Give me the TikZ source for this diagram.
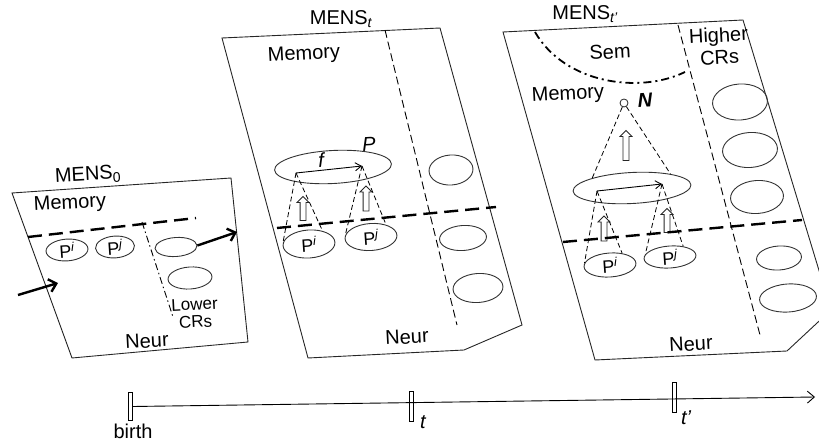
\documentclass[tikz,border=0pt]{standalone}
\usepackage{fontspec}
\setmainfont{Liberation Sans}
\usetikzlibrary{shapes.geometric,shapes.arrows,arrows.meta}
\begin{document}
\begin{tikzpicture}[x=1pt,y=-1pt,
  panel/.style={draw=black!85, line width=0.9pt, line join=miter},
  lbl/.style={font=\fontsize{20}{22}\selectfont, inner sep=0pt, rotate=3},
  smalllbl/.style={font=\fontsize{17}{17.5}\selectfont, inner sep=0pt, rotate=3, align=center},
  tlbl/.style={font=\fontsize{20}{22}\selectfont, inner sep=0pt},
  el/.style={ellipse, draw=black!80, line width=0.9pt, inner sep=0pt, rotate=4, font=\fontsize{18}{18}\selectfont},
  memline/.style={line width=2.4pt, dash pattern=on 14pt off 7pt},
  divdash/.style={line width=0.9pt, dash pattern=on 8pt off 4pt},
  divdashdot/.style={line width=0.9pt, dash pattern=on 7pt off 3pt on 1.5pt off 3pt},
  semline/.style={line width=1.8pt, dash pattern=on 8pt off 4pt on 2pt off 4pt},
  cone/.style={line width=0.8pt, dash pattern=on 5pt off 3pt},
  hollow/.style={single arrow, draw=black!85, line width=0.8pt, rotate=90, inner xsep=0pt, inner ysep=2.5pt, minimum width=11pt, single arrow head extend=3pt},
  bigarrow/.style={line width=2.4pt, -{Straight Barb[length=7pt,width=13pt]}},
  thinarrow/.style={line width=0.9pt, -{Straight Barb[length=6pt,width=8pt]}},
  tickbox/.style={draw, rectangle, minimum width=4pt, minimum height=28pt, inner sep=0pt, line width=0.8pt}
]
\useasboundingbox (0,0) rectangle (819,443);
\begin{scope}
\clip (0,0) rectangle (819,443);

% ================= Left panel: MENS_0 =================
\draw[panel] (12,193) -- (231,178) -- (248,342) -- (72,358) -- cycle;
\node[lbl] (mens0) at (88,175) {MENS\textsubscript{0}};
\node[lbl] (mem0) at (70,204) {Memory};
\draw[memline] (28,237) -- (196,218);
\draw[divdashdot] (142,222) -- (173,317);
\node[el, minimum width=42pt, minimum height=20pt] (LPi) at (67,250) {P\textsuperscript{\itshape i}};
\node[el, minimum width=39pt, minimum height=19pt] (LPj) at (115,247) {P\textsuperscript{\itshape j}};
\node[el, minimum width=42pt, minimum height=19pt] (LC1) at (176,247) {};
\node[el, minimum width=44pt, minimum height=22pt] (LC2) at (190,278) {};
\node[smalllbl] (lowercrs) at (195,313) {Lower\\CRs};
\node[lbl] (neur0) at (147,341) {Neur};
\coordinate (inA) at (18,295);
\coordinate (inB) at (58,283);
\draw[bigarrow] (inA) -- (inB);
\coordinate (outB) at (237,232);
\draw[bigarrow] (LC1.east) -- (outB);

% ================= Middle panel: MENS_t =================
\draw[panel] (222,38) -- (440,28) -- (522,325) -- (464,350) -- (308,358) -- cycle;
\node[lbl, rotate=-3] (menst) at (341,19) {MENS\textsubscript{\itshape t}};
\node[lbl] (memt) at (304,55) {Memory};
\draw[divdash] (385,30) -- (457,325);
\node[el, minimum width=117pt, minimum height=33pt, rotate=-1] (P) at (333,167) {};
\node[lbl, font=\fontsize{20}{22}\selectfont\itshape] (Plbl) at (369,144) {P};
\coordinate (fs) at (296,173);
\coordinate (fe) at (362,166);
\draw[thinarrow] (fs) -- (fe);
\node[lbl, font=\fontsize{20}{22}\selectfont\itshape] (flbl) at (321,160) {f};
\node[el, minimum width=52pt, minimum height=28pt] (MPi) at (309,244) {P\textsuperscript{\itshape i}};
\node[el, minimum width=52pt, minimum height=27pt] (MPj) at (371,237) {P\textsuperscript{\itshape j}};
\draw[cone] (fs) -- (MPi.175);
\draw[cone] (fs) -- (MPi.40);
\draw[cone] (fe) -- (MPj.172);
\draw[cone] (fe) -- (MPj.35);
\node[hollow, minimum height=24pt] (ha1) at (303,210) {};
\node[hollow, minimum height=25pt] (ha2) at (366,200) {};
\draw[memline] (277,228) -- (496,207);
\node[el, minimum width=44pt, minimum height=30pt] (MC1) at (451,170) {};
\node[el, minimum width=47pt, minimum height=25pt] (MC2) at (463,238) {};
\node[el, minimum width=50pt, minimum height=29pt] (MC3) at (478,288) {};
\node[lbl] (neurt) at (407,337) {Neur};

% ================= Right panel: MENS_t' =================
\draw[panel] (503,32) -- (743,20) -- (831,310) -- (787,351) -- (595,360) -- cycle;
\node[lbl, rotate=-3] (menstp) at (585,14) {MENS\textsubscript{\itshape t'}};
\coordinate (s1) at (535,32);
\coordinate (s2) at (685,72);
\draw[semline] (s1) .. controls (565,84) and (640,94) .. (s2);
\node[lbl] (sem) at (610,52) {Sem};
\node[lbl, align=center, font=\fontsize{20}{22}\selectfont] (higher) at (719,46) {Higher\\CRs};
\draw[divdash] (678,25) -- (760,335);
\node[lbl] (memtp) at (568,95) {Memory};
\node[circle, draw=black!85, line width=0.8pt, minimum size=8pt, inner sep=0pt] (N) at (624,103) {};
\node[lbl, font=\fontsize{20}{22}\selectfont\bfseries\itshape] (Nlbl) at (645,100) {N};
\node[el, minimum width=118pt, minimum height=31pt, rotate=-1] (Big) at (632,188) {};
\draw[cone] (N) -- (Big.163);
\draw[cone] (N) -- (Big.17);
\node[hollow, minimum height=30pt, minimum width=12pt] (ha3) at (626,147) {};
\coordinate (gs) at (597,191);
\coordinate (ge) at (662,184);
\draw[thinarrow] (gs) -- (ge);
\node[el, minimum width=52pt, minimum height=24pt] (RPi) at (610,265) {P\textsuperscript{\itshape i}};
\node[el, minimum width=52pt, minimum height=22pt] (RPj) at (670,257) {P\textsuperscript{\itshape j}};
\draw[cone] (gs) -- (RPi.172);
\draw[cone] (gs) -- (RPi.40);
\draw[cone] (ge) -- (RPj.170);
\draw[cone] (ge) -- (RPj.35);
\node[hollow, minimum height=25pt] (ha4) at (604,230) {};
\node[hollow, minimum height=24pt] (ha5) at (667,222) {};
\draw[memline] (563,242) -- (802,220);
\node[el, minimum width=55pt, minimum height=36pt] (RC1) at (740,102) {};
\node[el, minimum width=55pt, minimum height=35pt] (RC2) at (750,150) {};
\node[el, minimum width=53pt, minimum height=33pt] (RC3) at (757,197) {};
\node[el, minimum width=45pt, minimum height=24pt] (RC4) at (779,258) {};
\node[el, minimum width=57pt, minimum height=28pt] (RC5) at (788,298) {};
\node[lbl] (neurtp) at (691,344) {Neur};
\end{scope}

% ================= Timeline =================
\node[tickbox] (tb) at (130.5,406.5) {};
\node[tickbox, minimum height=30pt] (tt) at (411,406.5) {};
\node[tickbox, minimum height=30pt] (ttp) at (674,397) {};
\coordinate (tend) at (815,397);
\draw[line width=0.9pt, -{Straight Barb[length=7pt,width=12pt]}] (tb.east) -- (tend);
\node[tlbl] (lbirth) at (133,431) {birth};
\node[tlbl, font=\fontsize{20}{22}\selectfont\itshape] (lt) at (423,422) {t};
\node[tlbl, font=\fontsize{20}{22}\selectfont\itshape] (ltp) at (686,418) {t'};
\end{tikzpicture}
\end{document}
